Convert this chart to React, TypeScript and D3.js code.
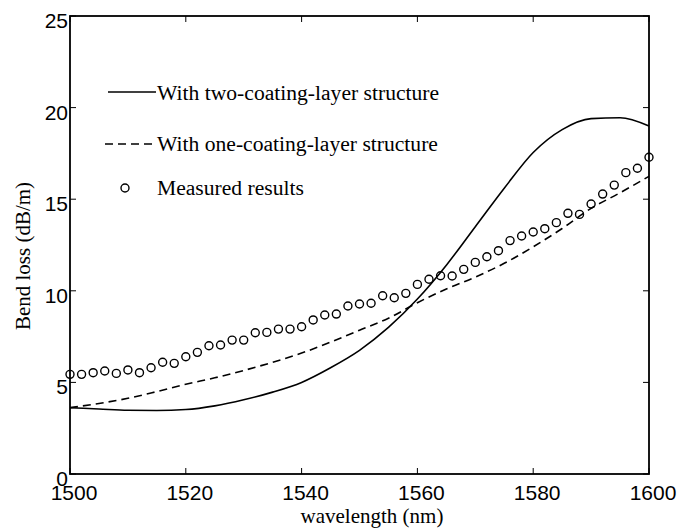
import React from "react";
import * as d3 from "d3";

const lineWavelengths = [1500, 1505, 1510, 1515, 1520, 1525, 1530, 1535, 1540, 1545, 1550, 1555, 1560, 1565, 1570, 1575, 1580, 1585, 1590, 1595, 1600];
const twoCoating = [3.62, 3.55, 3.48, 3.47, 3.52, 3.72, 4.05, 4.47, 5.0, 5.8, 6.75, 8.0, 9.55, 11.4, 13.5, 15.6, 17.55, 18.8, 19.4, 19.45, 19.0];
const oneCoating = [3.62, 3.85, 4.13, 4.5, 4.9, 5.25, 5.65, 6.1, 6.6, 7.2, 7.85, 8.5, 9.35, 10.1, 10.75, 11.5, 12.4, 13.4, 14.5, 15.35, 16.25];
const measuredWavelengths = [1500, 1502, 1504, 1506, 1508, 1510, 1512, 1514, 1516, 1518, 1520, 1522, 1524, 1526, 1528, 1530, 1532, 1534, 1536, 1538, 1540, 1542, 1544, 1546, 1548, 1550, 1552, 1554, 1556, 1558, 1560, 1562, 1564, 1566, 1568, 1570, 1572, 1574, 1576, 1578, 1580, 1582, 1584, 1586, 1588, 1590, 1592, 1594, 1596, 1598, 1600];
const measured = [5.44, 5.44, 5.53, 5.62, 5.49, 5.68, 5.53, 5.8, 6.1, 6.04, 6.4, 6.64, 7.0, 7.04, 7.31, 7.31, 7.71, 7.73, 7.91, 7.91, 8.04, 8.41, 8.68, 8.73, 9.17, 9.28, 9.32, 9.73, 9.62, 9.86, 10.35, 10.63, 10.82, 10.81, 11.17, 11.55, 11.86, 12.19, 12.74, 12.99, 13.21, 13.39, 13.72, 14.23, 14.17, 14.74, 15.28, 15.77, 16.45, 16.69, 17.29];
const xTicks = [1500, 1520, 1540, 1560, 1580, 1600];
const yTicks = [0, 5, 10, 15, 20, 25];
const legendLabels = ["With two-coating-layer structure", "With one-coating-layer structure", "Measured results"];
const xLabel = "wavelength (nm)";
const yLabel = "Bend loss (dB/m)";

export default function App() {
  const W = 683, H = 529;
  const left = 70, right = 649, top = 16, bottom = 474;
  const x = d3.scaleLinear().domain([1500, 1600]).range([left, right]);
  const y = d3.scaleLinear().domain([0, 25]).range([bottom, top]);
  const line = d3.line<number>()
    .x((_, i) => x(lineWavelengths[i]))
    .y((d) => y(d))
    .curve(d3.curveMonotoneX);
  const sans = "'Liberation Sans', Arial, sans-serif";
  const serif = "'Liberation Serif', 'Times New Roman', serif";
  const tl = 6;
  return (
    <svg width={W} height={H} style={{ position: "absolute", left: 0, top: 0, background: "#fff" }}>
      <rect x={0} y={0} width={W} height={H} fill="#fff" />
      <path d={line(twoCoating) || ""} fill="none" stroke="#000" strokeWidth={1.6} />
      <path d={line(oneCoating) || ""} fill="none" stroke="#000" strokeWidth={1.6} strokeDasharray="8,5" />
      {measured.map((v, i) => (
        <circle key={i} cx={x(measuredWavelengths[i])} cy={y(v)} r={4} fill="none" stroke="#000" strokeWidth={1.4} />
      ))}
      <rect x={left} y={top} width={right - left} height={bottom - top} fill="none" stroke="#000" strokeWidth={1.8} />
      {xTicks.map((t) => (
        <g key={"x" + t}>
          <line x1={x(t)} x2={x(t)} y1={bottom} y2={bottom - tl} stroke="#000" strokeWidth={1} />
          <line x1={x(t)} x2={x(t)} y1={top} y2={top + tl} stroke="#000" strokeWidth={1} />
          <text x={x(t) + 4} y={500} textAnchor="middle" fontFamily={sans} fontSize={21}>{t}</text>
        </g>
      ))}
      {yTicks.map((t) => (
        <g key={"y" + t}>
          <line x1={left} x2={left + tl} y1={y(t)} y2={y(t)} stroke="#000" strokeWidth={1} />
          <line x1={right} x2={right - tl} y1={y(t)} y2={y(t)} stroke="#000" strokeWidth={1} />
          <text x={68} y={y(t) + 12} textAnchor="end" fontFamily={sans} fontSize={21}>{t}</text>
        </g>
      ))}
      <text x={372} y={523} textAnchor="middle" fontFamily={serif} fontSize={21}>{xLabel}</text>
      <text transform={`translate(30,256) rotate(-90)`} textAnchor="middle" fontFamily={serif} fontSize={21}>{yLabel}</text>
      <line x1={108} x2={156} y1={92} y2={92} stroke="#000" strokeWidth={1.6} />
      <text x={157} y={100} fontFamily={serif} fontSize={21.6}>{legendLabels[0]}</text>
      <line x1={105} x2={152} y1={144} y2={144} stroke="#000" strokeWidth={1.6} strokeDasharray="8,5" />
      <text x={157} y={151} fontFamily={serif} fontSize={21.6}>{legendLabels[1]}</text>
      <circle cx={125} cy={188} r={4} fill="none" stroke="#000" strokeWidth={1.4} />
      <text x={157} y={195} fontFamily={serif} fontSize={21.6}>{legendLabels[2]}</text>
    </svg>
  );
}
